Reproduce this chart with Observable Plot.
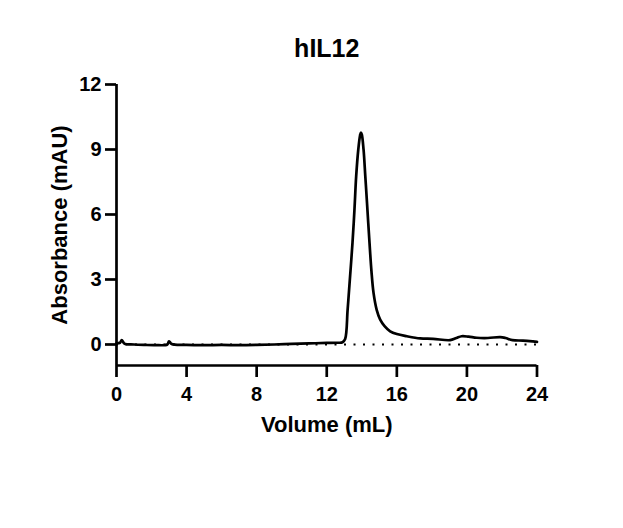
<!DOCTYPE html>
<html>
<head>
<meta charset="utf-8">
<script src="https://cdn.jsdelivr.net/npm/d3@7"></script>
<script src="https://cdn.jsdelivr.net/npm/@observablehq/plot@0.6"></script>
<style>
  html, body { margin: 0; padding: 0; background: #fff; }
</style>
</head>
<body>
<div id="chart"></div>
<script>
const title = "hIL12";
const xLabel = "Volume (mL)";
const yLabel = "Absorbance (mAU)";
const xDomain = [0, 24];
const yDomain = [-0.97, 12];
const xTicks = [0, 4, 8, 12, 16, 20, 24];
const yTicks = [0, 3, 6, 9, 12];

const volume = [0, 0.2, 0.3, 0.45, 1, 1.6, 2.2, 2.9, 3.0, 3.15, 4, 5, 6, 7, 8, 9, 10, 11, 12, 12.6, 12.9, 13.05, 13.19, 13.3, 13.47, 13.58, 13.68, 13.8, 13.9, 13.95, 14.0, 14.1, 14.2, 14.3, 14.44, 14.55, 14.67, 14.85, 15.05, 15.3, 15.62, 16.0, 16.57, 17.33, 18.07, 19.04, 19.4, 19.7, 20.1, 20.56, 21.2, 21.9, 22.2, 22.6, 23.2, 23.77, 24];
const absorbance = [0.05, 0.08, 0.2, 0.04, 0.0, -0.02, -0.03, 0.0, 0.15, 0.02, -0.02, -0.03, -0.02, -0.03, -0.02, 0.0, 0.03, 0.05, 0.07, 0.08, 0.1, 0.25, 1.6, 2.8, 4.7, 6.2, 7.77, 9.0, 9.65, 9.78, 9.7, 9.0, 7.77, 6.5, 4.7, 3.4, 2.38, 1.6, 1.15, 0.85, 0.61, 0.48, 0.38, 0.28, 0.26, 0.2, 0.3, 0.38, 0.36, 0.31, 0.3, 0.34, 0.3, 0.2, 0.18, 0.14, 0.12];

const data = volume.map((v, i) => ({volume: v, absorbance: absorbance[i]}));

const font = "'Liberation Sans', Arial, Helvetica, sans-serif";

const chart = Plot.plot({
  width: 623,
  height: 528,
  marginTop: 84,
  marginBottom: 163,
  marginLeft: 116,
  marginRight: 86.5,
  style: {fontFamily: font, color: "#000", background: "#fff"},
  x: {domain: xDomain},
  y: {domain: yDomain},
  marks: [
    Plot.ruleY([0], {stroke: "#000", strokeWidth: 2.2, strokeDasharray: "2,7.5"}),
    Plot.line(data, {x: "volume", y: "absorbance", stroke: "#000", strokeWidth: 2.7, curve: "catmull-rom"}),
    Plot.ruleX([xDomain[0]], {stroke: "#000", strokeWidth: 2.7}),
    Plot.ruleY([yDomain[0]], {stroke: "#000", strokeWidth: 2.7}),
    Plot.axisX({ticks: xTicks, tickSize: 12, tickPadding: 9, strokeWidth: 2.7, fontSize: 20, fontWeight: "bold", label: null}),
    Plot.axisY({ticks: yTicks, tickSize: 11, tickPadding: 4, strokeWidth: 2.7, fontSize: 20, fontWeight: "bold", label: null}),
    Plot.text([xLabel], {frameAnchor: "bottom", dy: 66, fontSize: 22, fontWeight: "bold", fill: "#000"}),
    Plot.text([yLabel], {frameAnchor: "left", dx: -57, rotate: -90, textAnchor: "middle", fontSize: 22, fontWeight: "bold", fill: "#000"}),
    Plot.text([title], {frameAnchor: "top", dy: -45, fontSize: 25, fontWeight: "bold", fill: "#000"})
  ]
});

document.getElementById("chart").appendChild(chart);
</script>
</body>
</html>
